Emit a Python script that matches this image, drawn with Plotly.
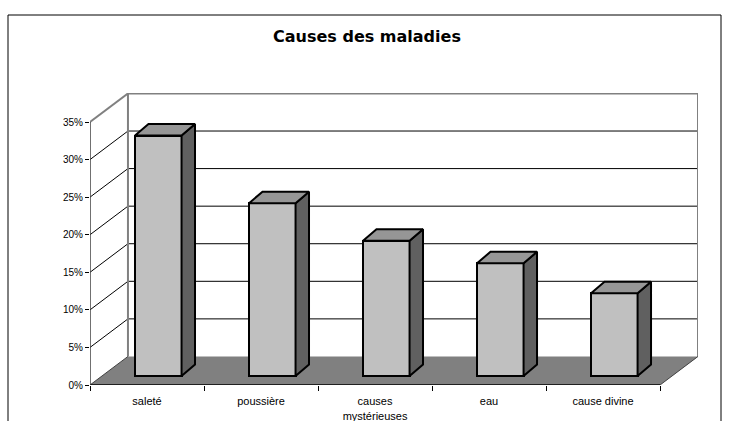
import plotly.graph_objects as go

# ---------------- data ----------------
categories = ["saleté", "poussière", "causes<br>mystérieuses", "eau", "cause divine"]
values = [32, 23, 18, 15, 11]          # percent
y_ticks = [0, 5, 10, 15, 20, 25, 30, 35]
y_tick_labels = ["0%", "5%", "10%", "15%", "20%", "25%", "30%", "35%"]

# ---------------- pseudo-3D geometry (axis units) ----------------
N = len(categories)
X0 = -0.5                 # front-left of floor
X1 = N - 0.5              # front-right of floor
Y_TOP = 35                # top of value axis
DX, DY = 0.333, 3.8       # back-wall offset (depth)
BAR_DX, BAR_DY = 0.099, 1.2     # bar front-face offset
BAR_W = 0.408
BD_X, BD_Y = 0.118, 1.53        # bar depth

FRONT = "#C0C0C0"
SIDE = "#606060"
TOP = "#969696"
FLOOR = "#808080"
WALL = "#808080"


def line_shape(x0, y0, x1, y1, color, width):
    return dict(type="line", xref="x", yref="y", x0=x0, y0=y0, x1=x1, y1=y1,
                line=dict(color=color, width=width), layer="below")


def path_shape(pts, fill, color, width, closed=True):
    d = "M " + " L ".join(f"{x},{y}" for x, y in pts) + (" Z" if closed else "")
    return dict(type="path", xref="x", yref="y", path=d,
                fillcolor=fill, line=dict(color=color, width=width), layer="below")


shapes = []
# floor
shapes.append(path_shape([(X0, 0), (X1, 0), (X1 + DX, DY), (X0 + DX, DY)],
                         FLOOR, FLOOR, 0))
# back-wall gridlines and left-wall diagonals
for k in y_ticks[1:-1]:
    shapes.append(line_shape(X0 + DX, k + DY, X1 + DX, k + DY, "#000000", 1))
    shapes.append(line_shape(X0, k, X0 + DX, k + DY, "#000000", 1))
# back wall border
shapes.append(path_shape([(X0 + DX, DY), (X0 + DX, Y_TOP + DY), (X1 + DX, Y_TOP + DY),
                          (X1 + DX, DY)], "rgba(0,0,0,0)", WALL, 2, closed=False))
shapes.append(line_shape(X0, Y_TOP, X0 + DX, Y_TOP + DY, WALL, 2))
# floor edges
shapes.append(line_shape(X1, 0, X1 + DX, DY, "#404040", 1))
shapes.append(line_shape(X0, 0, X0 + DX, DY, "#404040", 1))
shapes.append(line_shape(X0, 0, X1, 0, "#000000", 1.5))
# front value axis
shapes.append(line_shape(X0, 0, X0, Y_TOP, "#404040", 1.5))
# outer chart frame
shapes.append(dict(type="rect", xref="paper", yref="paper",
                   x0=(8 - 90) / 608, x1=(721 - 90) / 608,
                   y0=(385 - 440) / 292, y1=(385 - 15) / 292,
                   line=dict(color="#000000", width=1), fillcolor="rgba(0,0,0,0)",
                   layer="below"))

traces = []
# bar front faces
traces.append(go.Bar(
    x=[i + BAR_DX for i in range(N)], y=values, base=BAR_DY, width=BAR_W,
    marker=dict(color=FRONT, line=dict(color="#000000", width=2)),
    hoverinfo="skip", showlegend=False))

# bar side and top faces
sx, sy, tx, ty = [], [], [], []
for i, v in enumerate(values):
    xl = i + BAR_DX - BAR_W / 2
    xr = i + BAR_DX + BAR_W / 2
    b = BAR_DY
    t = BAR_DY + v
    sx += [xr, xr + BD_X, xr + BD_X, xr, xr, None]
    sy += [b, b + BD_Y, t + BD_Y, t, b, None]
    tx += [xl, xr, xr + BD_X, xl + BD_X, xl, None]
    ty += [t, t, t + BD_Y, t + BD_Y, t, None]
traces.append(go.Scatter(x=sx, y=sy, mode="lines", fill="toself", fillcolor=SIDE,
                         line=dict(color="#000000", width=2), hoverinfo="skip",
                         showlegend=False))
traces.append(go.Scatter(x=tx, y=ty, mode="lines", fill="toself", fillcolor=TOP,
                         line=dict(color="#000000", width=2), hoverinfo="skip",
                         showlegend=False))

# invisible trace for category label axis
traces.append(go.Scatter(x=list(range(N)), y=[None] * N, xaxis="x2", mode="markers",
                         hoverinfo="skip", showlegend=False))

fig = go.Figure(traces)

XR = [X0, X1 + DX]
YR = [0, 38.86]
x_tick_font = dict(family="Liberation Sans, Arial, sans-serif", size=11, color="#000000")
y_tick_font = dict(family="Liberation Sans, Arial, sans-serif", size=10, color="#000000")

fig.update_layout(
    width=734, height=421,
    margin=dict(l=90, r=36, t=93, b=36, autoexpand=False),
    paper_bgcolor="white", plot_bgcolor="white",
    title=dict(text="<b>Causes des maladies</b>", x=0.5, xref="container", xanchor="center",
               y=1 - 36 / 421, yref="container", yanchor="middle",
               font=dict(family="DejaVu Sans, sans-serif", size=16, color="#000000")),
    xaxis=dict(range=XR, tickvals=[k - 0.5 for k in range(N + 1)], showticklabels=False,
               ticks="outside", ticklen=5, tickcolor="#000000", tickwidth=1,
               showgrid=False, zeroline=False, showline=False, fixedrange=True,
               automargin=False),
    xaxis2=dict(range=XR, overlaying="x", side="bottom", tickvals=list(range(N)),
                ticktext=categories, ticks="outside", ticklen=6,
                tickcolor="rgba(0,0,0,0)", tickfont=x_tick_font,
                showgrid=False, zeroline=False, showline=False, fixedrange=True,
                automargin=False),
    yaxis=dict(range=YR, tickvals=y_ticks, ticktext=y_tick_labels, ticks="outside",
               ticklen=4, tickcolor="#000000", tickfont=y_tick_font,
               showgrid=False, zeroline=False, showline=False, fixedrange=True,
               automargin=False),
    bargap=0,
    shapes=shapes,
)

fig.write_html("out.html", config={"displayModeBar": False},
               post_script="document.body.style.margin='0';")
